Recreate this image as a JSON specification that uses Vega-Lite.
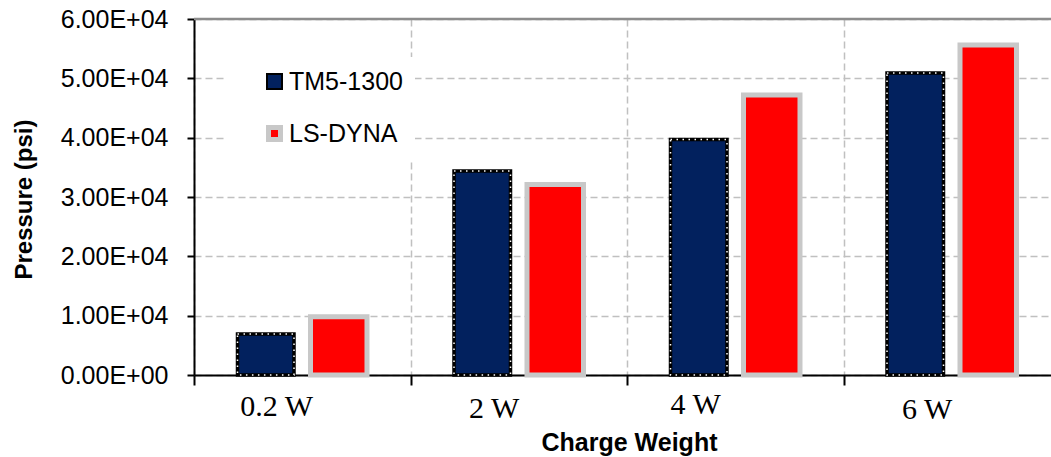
{
  "$schema": "https://vega.github.io/schema/vega-lite/v6.json",
  "width": 857,
  "height": 356,
  "autosize": {"type": "none"},
  "padding": {"left": 194, "top": 19, "right": 0, "bottom": 82},
  "background": "white",
  "config": {
    "view": {"stroke": null}
  },
  "data": {
    "values": [
      {"w": "0.2 W", "m": "TM5-1300", "p": 6900},
      {"w": "0.2 W", "m": "LS-DYNA", "p": 9800},
      {"w": "2 W", "m": "TM5-1300", "p": 34400},
      {"w": "2 W", "m": "LS-DYNA", "p": 32100},
      {"w": "4 W", "m": "TM5-1300", "p": 39700},
      {"w": "4 W", "m": "LS-DYNA", "p": 47200},
      {"w": "6 W", "m": "TM5-1300", "p": 50900},
      {"w": "6 W", "m": "LS-DYNA", "p": 55600}
    ]
  },
  "encoding": {
    "x": {
      "field": "w",
      "type": "nominal",
      "sort": ["0.2 W", "2 W", "4 W", "6 W"],
      "scale": {"range": [0, 866], "paddingInner": 0, "paddingOuter": 0},
      "axis": {
        "title": "Charge Weight",
        "titleFont": "Liberation Sans",
        "titleFontSize": 25,
        "titleFontWeight": "bold",
        "titleColor": "black",
        "titleX": 435,
        "titleY": 75,
        "titleAlign": "center",
        "titleBaseline": "alphabetic",
        "tickBand": "extent",
        "ticks": true,
        "tickSize": 10,
        "tickWidth": 2,
        "tickColor": "black",
        "domainColor": "black",
        "domainWidth": 2,
        "grid": true,
        "gridColor": "#c0c0c0",
        "gridDash": [7, 4],
        "gridWidth": 1.5,
        "labelFont": "Liberation Serif",
        "labelFontSize": 30,
        "labelColor": "black",
        "labelAngle": 0,
        "labelBaseline": "alphabetic",
        "labelOffset": {
          "condition": [
            {"test": "datum.value == '4 W'", "value": -40},
            {"test": "datum.value == '0.2 W'", "value": -26}
          ],
          "value": -25
        },
        "labelPadding": {
          "condition": [
            {"test": "datum.value == '2 W'", "value": 32},
            {"test": "datum.value == '4 W'", "value": 28},
            {"test": "datum.value == '6 W'", "value": 33}
          ],
          "value": 30
        }
      }
    },
    "y": {
      "field": "p",
      "type": "quantitative",
      "scale": {"domain": [0, 60000], "nice": false},
      "axis": {
        "title": "Pressure (psi)",
        "titleFont": "Liberation Sans",
        "titleFontSize": 24,
        "titleFontWeight": "bold",
        "titleColor": "black",
        "titleAngle": -90,
        "titleX": -170,
        "titleY": 180,
        "titleAlign": "center",
        "titleBaseline": "middle",
        "values": [0, 10000, 20000, 30000, 40000, 50000, 60000],
        "labelExpr": "datum.value == 0 ? '0.00E+00' : format(datum.value / 10000, '.2f') + 'E+04'",
        "labelFont": "Liberation Sans",
        "labelFontSize": 25,
        "labelColor": "black",
        "labelBaseline": "middle",
        "labelPadding": 19,
        "tickSize": 7,
        "tickWidth": 2,
        "tickColor": "black",
        "domainColor": "black",
        "domainWidth": 2,
        "grid": true,
        "gridColor": "#c0c0c0",
        "gridDash": [7, 4],
        "gridWidth": 1.5
      }
    }
  },
  "layer": [
    {
      "mark": {"type": "bar"},
      "encoding": {
        "xOffset": {
          "field": "m",
          "type": "nominal",
          "scale": {"domain": ["TM5-1300", "LS-DYNA"], "paddingInner": 0.226, "paddingOuter": 0.596}
        },
        "color": {
          "field": "m",
          "type": "nominal",
          "scale": {"domain": ["TM5-1300", "LS-DYNA"], "range": ["#02215e", "#ff0000"]},
          "legend": {
            "title": null,
            "orient": "none",
            "legendX": 31,
            "legendY": 38,
            "padding": 12,
            "symbolOffset": 25,
            "fillColor": "white",
            "strokeColor": null,
            "labelFont": "Liberation Sans",
            "labelFontSize": 25,
            "labelColor": "black",
            "labelOffset": 2,
            "symbolType": "square",
            "symbolSize": 256,
            "rowPadding": 22,
            "encode": {
              "symbols": {
                "update": {
                  "fill": {"signal": "datum.value == 'LS-DYNA' ? '#ff0000' : '#02215e'"},
                  "stroke": {"signal": "datum.value == 'LS-DYNA' ? '#c8c8c8' : '#000000'"},
                  "strokeWidth": {"signal": "datum.value == 'LS-DYNA' ? 5 : 2"},
                  "size": {"signal": "datum.value == 'LS-DYNA' ? 144 : 225"},
                  "opacity": {"value": 1},
                  "fillOpacity": {"value": 1}
                }
              }
            }
          }
        },
        "stroke": {
          "field": "m",
          "type": "nominal",
          "scale": {"domain": ["TM5-1300", "LS-DYNA"], "range": ["#000000", "#c8c8c8"]},
          "legend": null
        },
        "strokeWidth": {
          "condition": {"test": "datum.m == 'LS-DYNA'", "value": 5},
          "value": 3.5
        }
      }
    },
    {
      "transform": [{"filter": "datum.m == 'TM5-1300'"}],
      "mark": {"type": "bar", "fillOpacity": 0, "stroke": "white", "strokeWidth": 1.5, "strokeDash": [1.5, 4.5]},
      "encoding": {
        "xOffset": {"field": "m", "type": "nominal"}
      }
    },
    {
      "data": {"values": [{"top": 60000}]},
      "mark": {"type": "rule", "color": "#8c8c8c", "strokeWidth": 2.5},
      "encoding": {
        "y": {"field": "top", "type": "quantitative"},
        "x": null
      }
    }
  ]
}
